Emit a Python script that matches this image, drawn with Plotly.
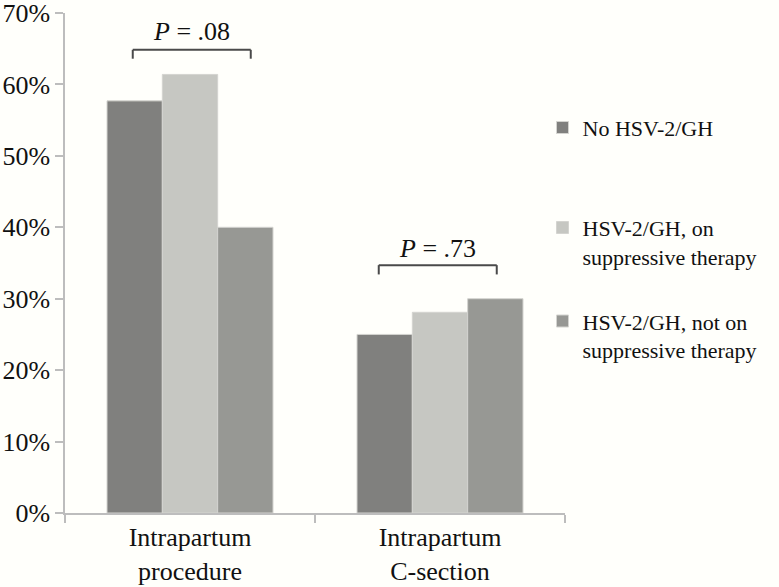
import plotly.graph_objects as go

categories = ["Intrapartum<br>procedure", "Intrapartum<br>C-section"]
series_names = [
    "No HSV-2/GH",
    "HSV-2/GH, on<br>suppressive therapy",
    "HSV-2/GH, not on<br>suppressive therapy",
]
no_hsv = [57.7, 25.0]
hsv_on = [61.4, 28.1]
hsv_not = [40.0, 30.0]
series_values = [no_hsv, hsv_on, hsv_not]
colors = ["#80807e", "#c6c7c2", "#979894"]

p_labels = ["<i>P</i> = .08", "<i>P</i> = .73"]
bracket_top = [64.85, 34.7]
bracket_bottom = [63.6, 33.4]
bracket_half = 0.236
bracket_center = [0.007, 0.991]
p_label_y = [67.4, 37.0]

y_ticks = [0, 10, 20, 30, 40, 50, 60, 70]

FONT = "Liberation Serif, DejaVu Serif, Times New Roman, serif"
TXT = "#111111"

fig = go.Figure()
legend_ids = ["legend", "legend2", "legend3"]
for name, vals, col, lg in zip(series_names, series_values, colors, legend_ids):
    fig.add_trace(go.Bar(
        x=categories, y=vals, name=name,
        marker=dict(color=col, line=dict(color="#d4d4d0", width=1)),
        legend=lg,
    ))

shapes = []
for c, top, bot in zip(bracket_center, bracket_top, bracket_bottom):
    x0 = c - bracket_half
    x1 = c + bracket_half
    line = dict(color="#4a4a4a", width=2)
    shapes.append(dict(type="line", xref="x", yref="y", x0=x0, x1=x1, y0=top, y1=top, line=line))
    shapes.append(dict(type="line", xref="x", yref="y", x0=x0, x1=x0, y0=top, y1=bot, line=line))
    shapes.append(dict(type="line", xref="x", yref="y", x0=x1, x1=x1, y0=top, y1=bot, line=line))

annotations = []
for c, ly, txt in zip(bracket_center, p_label_y, p_labels):
    annotations.append(dict(x=c, y=ly, xref="x", yref="y", text=txt, showarrow=False,
                            font=dict(family=FONT, size=26, color=TXT),
                            xanchor="center", yanchor="middle"))

leg_common = dict(font=dict(family=FONT, size=22, color=TXT), bgcolor="rgba(0,0,0,0)",
                  borderwidth=0, xanchor="left", yanchor="middle", valign="top",
                  xref="paper", yref="paper", x=0.955)

fig.update_layout(
    width=779, height=587,
    margin=dict(l=65, r=214, t=13, b=74),
    paper_bgcolor="#fffffb", plot_bgcolor="#fffffb",
    barmode="group", bargap=0.336, bargroupgap=0,
    showlegend=True,
    legend=dict(**leg_common, y=0.7706),
    legend2=dict(**leg_common, y=0.5416),
    legend3=dict(**leg_common, y=0.3546),
    shapes=shapes, annotations=annotations,
    xaxis=dict(
        type="category", range=[-0.5, 1.5], tickson="boundaries", automargin=False,
        ticks="outside", ticklen=8, tickcolor="#bdbdbd", tickwidth=1.5,
        showline=True, linecolor="#bdbdbd", linewidth=1.5,
        tickfont=dict(family=FONT, size=26, color=TXT), showgrid=False,
    ),
    yaxis=dict(
        range=[0, 70], tickvals=y_ticks, ticktext=[f"{v}%" for v in y_ticks], automargin=False,
        ticklabeloverflow="allow",
        ticks="outside", ticklen=8, tickcolor="#bdbdbd", tickwidth=1.5,
        showline=True, linecolor="#bdbdbd", linewidth=1.5,
        tickfont=dict(family=FONT, size=26, color=TXT), showgrid=False, zeroline=False,
    ),
)

fig.write_html("out.html", config={"displayModeBar": False},
               post_script="document.body.style.margin='0';")
